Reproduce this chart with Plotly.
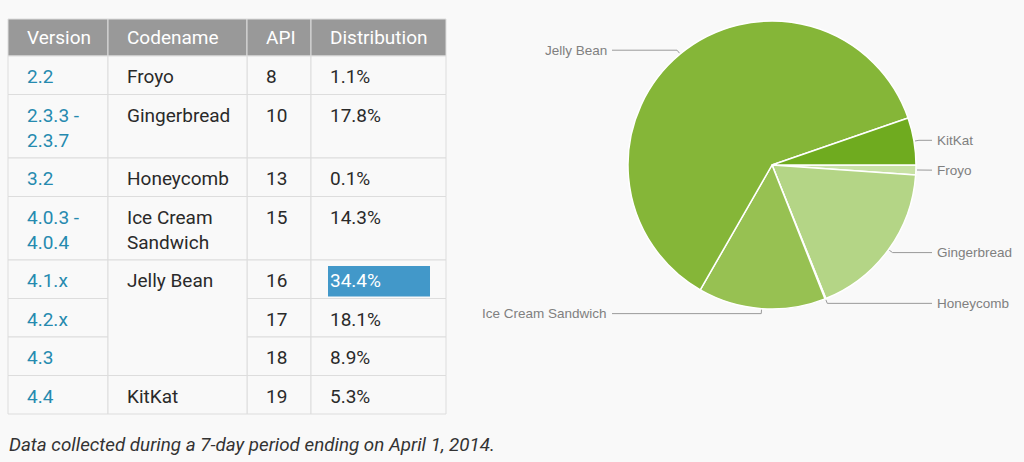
import numpy as np
import plotly.graph_objects as go

# table data
headers = ["Version", "Codename", "API", "Distribution"]
versions = ["2.2", "2.3.3 -<br>2.3.7", "3.2", "4.0.3 -<br>4.0.4", "4.1.x", "4.2.x", "4.3", "4.4"]
codenames = ["Froyo", "Gingerbread", "Honeycomb", "Ice Cream<br>Sandwich", "Jelly Bean", "Jelly Bean", "Jelly Bean", "KitKat"]
api_levels = [8, 10, 13, 15, 16, 17, 18, 19]
distribution = [1.1, 17.8, 0.1, 14.3, 34.4, 18.1, 8.9, 5.3]
highlight_row = 4

# pie data (summed by codename)
pie_labels = ["Froyo", "Gingerbread", "Honeycomb", "Ice Cream Sandwich", "Jelly Bean", "KitKat"]
pie_colors = ["#c8e1a5", "#b4d586", "#d2e7b4", "#97c152", "#85b638", "#6fab1f"]
pie_values = [sum(d for d, c in zip(distribution, codenames) if c.replace("<br>", " ") == name)
              for name in pie_labels]

caption = "Data collected during a 7-day period ending on April 1, 2014."

W, H = 1024, 462
BG = "#f9f9f9"
col_x = [8, 108, 247, 311, 446]
header_top, header_h = 19, 37
row_h1, line_h = 38.5, 25
cx, cy, R = 772, 165, 144

fig = go.Figure()
shapes = []
annotations = []

def rect(x0, y0, x1, y1, fill, line="#dddddd"):
    shapes.append(dict(type="rect", xref="x", yref="y", x0=x0, y0=y0, x1=x1, y1=y1,
                       fillcolor=fill, line=dict(color=line, width=1), layer="below"))

def cell_text(x, y, text, color, size=19):
    annotations.append(dict(xref="x", yref="y", x=x, y=y, text=text, showarrow=False,
                            xanchor="left", yanchor="top", align="left",
                            font=dict(family="Roboto", size=size, color=color)))

# header
for c, h in enumerate(headers):
    rect(col_x[c], header_top, col_x[c + 1], header_top + header_h, "#999999")
    cell_text(col_x[c] + 17, header_top + 5, h, "white")

# rows
row_tops = []
y = header_top + header_h
for v, n in zip(versions, codenames):
    lines = max(v.count("<br>"), n.count("<br>")) + 1
    row_tops.append((y, y + row_h1 + line_h * (lines - 1)))
    y = row_tops[-1][1]

for i, (t, b) in enumerate(row_tops):
    rect(col_x[0], t, col_x[1], b, BG)
    rect(col_x[2], t, col_x[3], b, BG)
    rect(col_x[3], t, col_x[4], b, BG)
    cell_text(col_x[0] + 17, t + 7, versions[i], "#258aaf")
    cell_text(col_x[2] + 17, t + 7, str(api_levels[i]), "#2a2a2a")
    if i == highlight_row:
        shapes.append(dict(type="rect", xref="x", yref="y", x0=col_x[3] + 17, x1=col_x[3] + 119,
                           y0=t + 6, y1=t + 36.5, fillcolor="#4298c9", line=dict(width=0), layer="below"))
        cell_text(col_x[3] + 17, t + 7, f"{distribution[i]}%", "white")
    else:
        cell_text(col_x[3] + 17, t + 7, f"{distribution[i]}%", "#2a2a2a")

# codename column, merged over repeated names
i = 0
while i < len(codenames):
    j = i
    while j + 1 < len(codenames) and codenames[j + 1] == codenames[i]:
        j += 1
    t, b = row_tops[i][0], row_tops[j][1]
    rect(col_x[1], t, col_x[2], b, BG)
    cell_text(col_x[1] + 17, t + 7, codenames[i], "#2a2a2a")
    i = j + 1

# pie
fig.add_trace(go.Pie(
    values=pie_values, labels=pie_labels, sort=False, direction="clockwise", rotation=90,
    marker=dict(colors=pie_colors, line=dict(color="white", width=1.5)),
    textinfo="none", hoverinfo="label+percent", showlegend=False,
    domain=dict(x=[(cx - R) / W, (cx + R) / W], y=[(H - cy - R) / H, (H - cy + R) / H]),
))

# leader lines and labels
fracs = np.array(pie_values) / sum(pie_values)
mids = np.cumsum(fracs) - fracs / 2
lx, ly = [], []
for name, m in zip(pie_labels, mids):
    th = 2 * np.pi * m
    u = np.array([np.cos(th), np.sin(th)])
    p0 = np.array([cx, cy]) + (R + 1) * u
    p1 = np.array([cx, cy]) + (R + 5) * u
    right = u[0] >= 0
    xend = 932 if right else 612
    lx += [p0[0], p1[0], xend, None]
    ly += [p0[1], p1[1], p1[1], None]
    annotations.append(dict(xref="x", yref="y", x=xend + (3 if right else -3), y=p1[1],
                            text=name, showarrow=False, xanchor="left" if right else "right",
                            yanchor="middle", font=dict(family="Liberation Sans", size=13.5, color="#808080")))

fig.add_trace(go.Scatter(x=lx, y=ly, mode="lines", line=dict(color="#9a9a9a", width=1),
                         hoverinfo="skip", showlegend=False))

annotations.append(dict(xref="x", yref="y", x=7, y=445, text=caption, showarrow=False,
                        xanchor="left", yanchor="middle",
                        font=dict(family="Roboto", size=18.8, color="#333333", style="italic")))

fig.update_layout(
    width=W, height=H, margin=dict(l=0, r=0, t=0, b=0),
    paper_bgcolor=BG, plot_bgcolor=BG,
    xaxis=dict(range=[0, W], visible=False, fixedrange=True),
    yaxis=dict(range=[H, 0], visible=False, fixedrange=True),
    shapes=shapes, annotations=annotations,
)

fig.write_html("out.html", config={"displayModeBar": False},
               post_script="document.body.style.margin='0';document.body.style.background='#f9f9f9';")
